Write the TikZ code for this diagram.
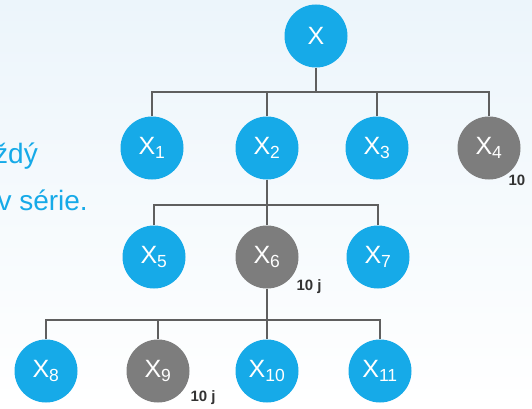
\documentclass[tikz,border=0pt]{standalone}
\usepackage{fontspec}
\setmainfont{Liberation Sans}
\usepackage{tikz}

\definecolor{nodeblue}{RGB}{22,170,232}
\definecolor{nodegray}{RGB}{125,125,125}
\definecolor{linegray}{RGB}{95,95,95}
\definecolor{bgtop}{RGB}{236,245,251}

\begin{document}
\begin{tikzpicture}[x=1pt, y=-1pt,
    var/.style={circle, fill=nodeblue, minimum size=63pt, inner sep=0pt,
      text=white, font=\fontsize{25}{25}\selectfont},
    fixed/.style={var, fill=nodegray},
    link/.style={draw=linegray, line width=1.4pt},
    cost/.style={font=\bfseries\fontsize{15}{15}\selectfont, text=black!80},
    side/.style={anchor=base east, text=nodeblue, inner sep=0pt,
      font=\fontsize{28}{28}\selectfont}]
      \useasboundingbox (0, 0) rectangle (532, 409);
      \shade[top color=bgtop, bottom color=white] (0, 0) rectangle (532, 409);
      \clip (0, 0) rectangle (532, 409);
      % text on the left, cut by the edge
      \node[side] (t1) at (38, 163) {každý};
      \node[side] (t2) at (88, 210) {v série.};
      % the tree
      \node[var] (x) at (316, 36) {X};
      \node[var] (x1) at (152, 148) {X\textsubscript{1}};
      \node[var] (x2) at (267, 148) {X\textsubscript{2}};
      \node[var] (x3) at (377, 148) {X\textsubscript{3}};
      \node[fixed] (x4) at (489, 148) {X\textsubscript{4}};
      \node[var] (x5) at (154, 257) {X\textsubscript{5}};
      \node[fixed] (x6) at (267, 257) {X\textsubscript{6}};
      \node[var] (x7) at (378, 257) {X\textsubscript{7}};
      \node[var] (x8) at (46, 371) {X\textsubscript{8}};
      \node[fixed] (x9) at (158, 371) {X\textsubscript{9}};
      \node[var] (x10) at (267, 371) {X\textsubscript{10}};
      \node[var] (x11) at (380, 371) {X\textsubscript{11}};
      \coordinate (b1) at (316, 92);
      \coordinate (b2) at (267, 205);
      \coordinate (b3) at (267, 320);
      \draw[link] (x) -- (b1);
      \draw[link] (x1) |- (b1);
      \draw[link] (x2) |- (b1);
      \draw[link] (x3) |- (b1);
      \draw[link] (x4) |- (b1);
      \draw[link] (x2) -- (x6);
      \draw[link] (x5) |- (b2);
      \draw[link] (x7) |- (b2);
      \draw[link] (x6) -- (x10);
      \draw[link] (x8) |- (b3);
      \draw[link] (x9) |- (b3);
      \draw[link] (x11) |- (b3);
      % costs
      \node[cost, anchor=west] (c4) at (505, 180) {10};
      \node[cost, anchor=west] (c6) at (293, 287) {10 j};
      \node[cost, anchor=west] (c9) at (187, 398) {10 j};
    \end{tikzpicture}
\end{document}
